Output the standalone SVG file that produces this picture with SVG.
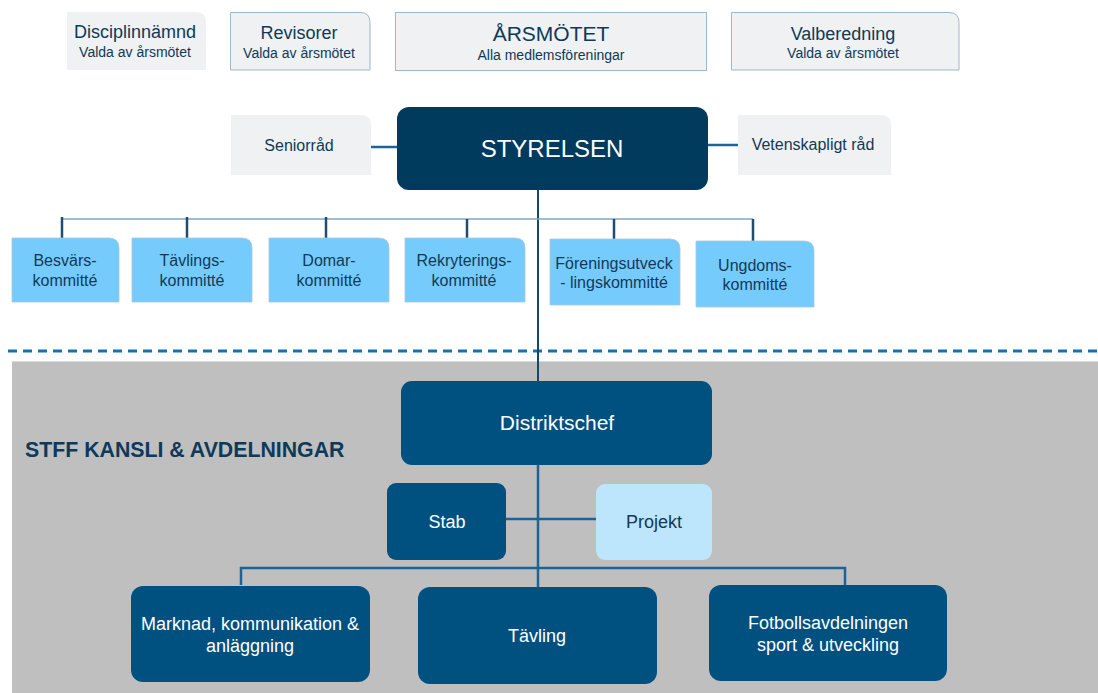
<svg xmlns="http://www.w3.org/2000/svg" width="1098" height="693" viewBox="0 0 1098 693">
<style>
  text { font-family: "Liberation Sans", Arial, sans-serif; text-anchor: middle; }
  .top { fill: #F0F1F2; }
  .topb { fill: #F0F1F2; stroke: #9DB7CB; stroke-width: 1; }
  .dark { fill: #0E3A5A; }
  .com { fill: #75CBFC; stroke: #A8C8DC; stroke-width: 0.8; }
  .comt { fill: #123A58; font-size: 16px; }
  .navy { fill: #005180; }
  .white { fill: #FFFFFF; }
  .bus { stroke: #7FA6C2; stroke-width: 1.5; fill: none; }
  .tick { stroke: #1E4D6E; stroke-width: 2.5; fill: none; }
  .line { stroke: #1A6499; stroke-width: 2.5; fill: none; }
  .vline { stroke: #0E4A74; stroke-width: 2; fill: none; }
</style>
<rect x="12" y="361" width="1086" height="332" fill="#BFBFBF"/>
<line x1="12" y1="361.5" x2="1098" y2="361.5" stroke="#DADADA" stroke-width="1"/>
<line x1="8" y1="351" x2="1098" y2="351" stroke="#1A70AC" stroke-width="3" stroke-dasharray="9,6"/>

<g id="connectors">
  <line class="line" x1="371" y1="147" x2="397" y2="147"/>
  <line class="line" x1="708" y1="145" x2="738" y2="145"/>
  <line class="vline" x1="538" y1="190" x2="538" y2="381"/>
  <line class="bus" x1="62" y1="219" x2="753" y2="219"/>
  <line class="tick" x1="62" y1="217" x2="62" y2="238"/>
  <line class="tick" x1="187" y1="217" x2="187" y2="238"/>
  <line class="tick" x1="326" y1="217" x2="326" y2="238"/>
  <line class="tick" x1="467" y1="219" x2="467" y2="238"/>
  <line class="tick" x1="614" y1="219" x2="614" y2="239"/>
  <line class="tick" x1="753" y1="219" x2="753" y2="241"/>
  <line class="line" x1="538" y1="465" x2="538" y2="587"/>
  <line class="line" x1="506" y1="519" x2="596" y2="519"/>
  <polyline class="line" points="241,585 241,568 845,568 845,585" stroke-width="2"/>
</g>

<g id="disciplinnamnd">
  <path class="top" d="M67,12 H196 Q206,12 206,22 V70 H67 Z"/>
  <text x="135" y="38" font-size="18" class="dark">Disciplinnämnd</text>
  <text x="135" y="57" font-size="14" class="dark">Valda av årsmötet</text>
</g>
<g id="revisorer">
  <path class="topb" d="M230.5,12.5 H360 Q370,12.5 370,22.5 V70 H230.5 Z"/>
  <text x="299" y="39" font-size="18" class="dark">Revisorer</text>
  <text x="299" y="58" font-size="14" class="dark">Valda av årsmötet</text>
</g>
<g id="arsmotet">
  <rect class="topb" x="395.5" y="12.5" width="311" height="58"/>
  <text x="551" y="41" font-size="21" class="dark">ÅRSMÖTET</text>
  <text x="551" y="60" font-size="14" class="dark">Alla medlemsföreningar</text>
</g>
<g id="valberedning">
  <path class="topb" d="M731.5,12.5 H949 Q959,12.5 959,22.5 V70 H731.5 Z"/>
  <text x="843" y="40" font-size="18" class="dark">Valberedning</text>
  <text x="843" y="58" font-size="14" class="dark">Valda av årsmötet</text>
</g>
<g id="seniorrad">
  <path class="top" d="M231,115 H361 Q371,115 371,125 V175 H231 Z"/>
  <text x="299" y="151" font-size="16" class="dark">Seniorråd</text>
</g>
<g id="styrelsen">
  <rect x="397" y="107" width="311" height="83" rx="12" fill="#003A5C"/>
  <text x="552" y="157" font-size="24" class="white">STYRELSEN</text>
</g>
<g id="vetenskapligt">
  <path class="top" d="M738,115 H881 Q891,115 891,125 V175 H738 Z"/>
  <text x="813" y="150" font-size="16" class="dark">Vetenskapligt råd</text>
</g>

<g id="besvars">
  <path class="com" d="M12,238 H109 Q119,238 119,248 V302 H12 Z"/>
  <text class="comt" x="65" y="266">Besvärs-</text>
  <text class="comt" x="65" y="286">kommitté</text>
</g>
<g id="tavlingskommitte">
  <path class="com" d="M132,238 H242 Q252,238 252,248 V302 H132 Z"/>
  <text class="comt" x="192" y="266">Tävlings-</text>
  <text class="comt" x="192" y="286">kommitté</text>
</g>
<g id="domar">
  <path class="com" d="M269,238 H379 Q389,238 389,248 V302 H269 Z"/>
  <text class="comt" x="329" y="266">Domar-</text>
  <text class="comt" x="329" y="286">kommitté</text>
</g>
<g id="rekryterings">
  <path class="com" d="M405,238 H515 Q525,238 525,248 V302 H405 Z"/>
  <text class="comt" x="464" y="266">Rekryterings-</text>
  <text class="comt" x="464" y="286">kommitté</text>
</g>
<g id="forenings">
  <path class="com" d="M550,239 H670 Q680,239 680,249 V305 H550 Z"/>
  <text class="comt" x="614" y="269">Föreningsutveck</text>
  <text class="comt" x="614" y="288">- lingskommitté</text>
</g>
<g id="ungdoms">
  <path class="com" d="M696,241 H804 Q814,241 814,251 V307 H696 Z"/>
  <text class="comt" x="755" y="271">Ungdoms-</text>
  <text class="comt" x="755" y="290">kommitté</text>
</g>

<text x="25" y="457" font-size="21.3" font-weight="bold" fill="#0E3A5A" style="text-anchor:start">STFF KANSLI &amp; AVDELNINGAR</text>

<g id="distriktschef">
  <rect class="navy" x="401" y="381" width="311" height="84" rx="11"/>
  <text x="557" y="430" font-size="21" class="white">Distriktschef</text>
</g>
<g id="stab">
  <rect class="navy" x="387" y="483" width="119" height="77" rx="9"/>
  <text x="447" y="528" font-size="18" class="white">Stab</text>
</g>
<g id="projekt">
  <rect x="596" y="484" width="116" height="76" rx="9" fill="#BDE5FB"/>
  <text x="654" y="528" font-size="18" fill="#123A58">Projekt</text>
</g>
<g id="marknad">
  <rect class="navy" x="131" y="586" width="239" height="96" rx="12"/>
  <text x="250" y="630" font-size="18" class="white">Marknad, kommunikation &amp;</text>
  <text x="250" y="652" font-size="18" class="white">anläggning</text>
</g>
<g id="tavling">
  <rect class="navy" x="418" y="587" width="239" height="97" rx="12"/>
  <text x="537" y="642" font-size="18" class="white">Tävling</text>
</g>
<g id="fotboll">
  <rect class="navy" x="709" y="585" width="238" height="96" rx="12"/>
  <text x="828" y="629" font-size="18" class="white">Fotbollsavdelningen</text>
  <text x="828" y="651" font-size="18" class="white">sport &amp; utveckling</text>
</g>
</svg>
